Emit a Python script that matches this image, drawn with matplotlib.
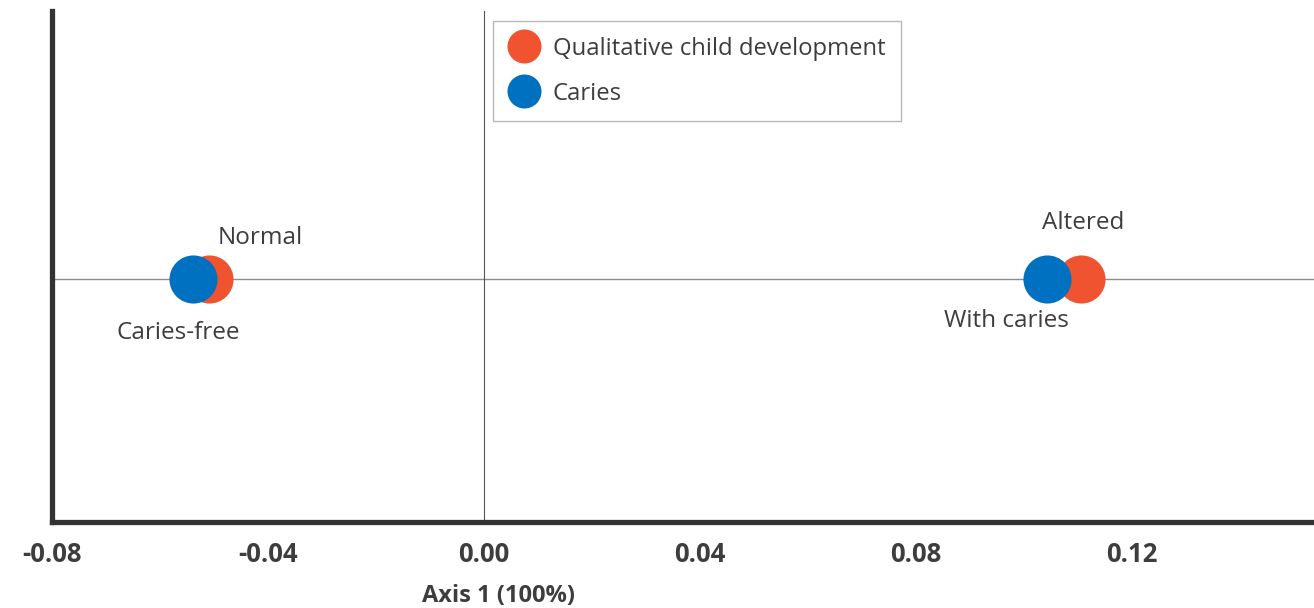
import matplotlib.pyplot as plt
from matplotlib.lines import Line2D

# category coordinates on axis 1 (axis 2 is flat, 100% inertia on axis 1)
dev_labels = ['Normal', 'Altered']
dev_x = [-0.0509, 0.1106]
dev_y = [0.0, 0.0]

caries_labels = ['Caries-free', 'With caries']
caries_x = [-0.0539, 0.1043]
caries_y = [0.0, 0.0]

xticks = [-0.08, -0.04, 0.00, 0.04, 0.08, 0.12]
xtick_labels = ['-0.08', '-0.04', '0.00', '0.04', '0.08', '0.12']

RED = '#f0532f'
BLUE = '#0070c0'
TXT = '#3d3d3d'

plt.rcParams['font.family'] = ['Open Sans', 'DejaVu Sans']

fig = plt.figure(figsize=(13.14, 6.08), dpi=100)
ax = fig.add_axes([52 / 1314, 1 - 522 / 608, 1 - 52 / 1314, (522 - 11) / 608])

ax.axhline(0, color='#8c8c8c', lw=1.0, zorder=1)
ax.axvline(0, color='#555555', lw=0.8, zorder=1)

ax.scatter(dev_x, dev_y, s=1200, color=RED, linewidths=0, zorder=3)
ax.scatter(caries_x, caries_y, s=1200, color=BLUE, linewidths=0, zorder=4)

# point labels, offsets in pixels
ax.annotate(dev_labels[0], (dev_x[0], dev_y[0]), xytext=(8, 41), textcoords='offset pixels',
            ha='left', va='center', fontsize=17.5, color=TXT)
ax.annotate(dev_labels[1], (dev_x[1], dev_y[1]), xytext=(2, 56), textcoords='offset pixels',
            ha='center', va='center', fontsize=17.5, color=TXT)
ax.annotate(caries_labels[0], (caries_x[0], caries_y[0]), xytext=(-15, -54), textcoords='offset pixels',
            ha='center', va='center', fontsize=17.5, color=TXT)
ax.annotate(caries_labels[1], (caries_x[1], caries_y[1]), xytext=(-41, -42), textcoords='offset pixels',
            ha='center', va='center', fontsize=17.5, color=TXT)

ax.set_xlim(-0.08, 0.1537)
ax.set_ylim(-1.0, 1.107)
ax.set_xticks(xticks)
ax.set_xticklabels(xtick_labels, fontsize=18.5, fontweight='bold', color=TXT)
ax.set_yticks([])
ax.tick_params(axis='x', length=0, pad=14)

# axis title sits left of centre in the original
fig.text(498 / 1314, 1 - 596 / 608, 'Axis 1 (100%)', fontsize=17, fontweight='bold',
         color=TXT, ha='center', va='center')

for side in ['top', 'right']:
    ax.spines[side].set_visible(False)
for side in ['left', 'bottom']:
    ax.spines[side].set_linewidth(3.8)
    ax.spines[side].set_color('#333333')

handles = [
    Line2D([], [], marker='o', ls='none', markersize=24.5, markerfacecolor=RED, markeredgewidth=0),
    Line2D([], [], marker='o', ls='none', markersize=24.5, markerfacecolor=BLUE, markeredgewidth=0),
]
leg = ax.legend(handles, ['Qualitative child development', 'Caries'],
                loc='upper left', bbox_to_anchor=(493 / 1314, 1 - 21 / 608),
                bbox_transform=fig.transFigure, borderaxespad=0, fontsize=17.2,
                fancybox=False, frameon=True, borderpad=0.65, labelspacing=0.88,
                handletextpad=0.55, handlelength=1.3, labelcolor=TXT)
leg.get_frame().set_edgecolor('#a6a6a6')
leg.get_frame().set_linewidth(1.0)

fig.savefig('out.png', dpi=100)
